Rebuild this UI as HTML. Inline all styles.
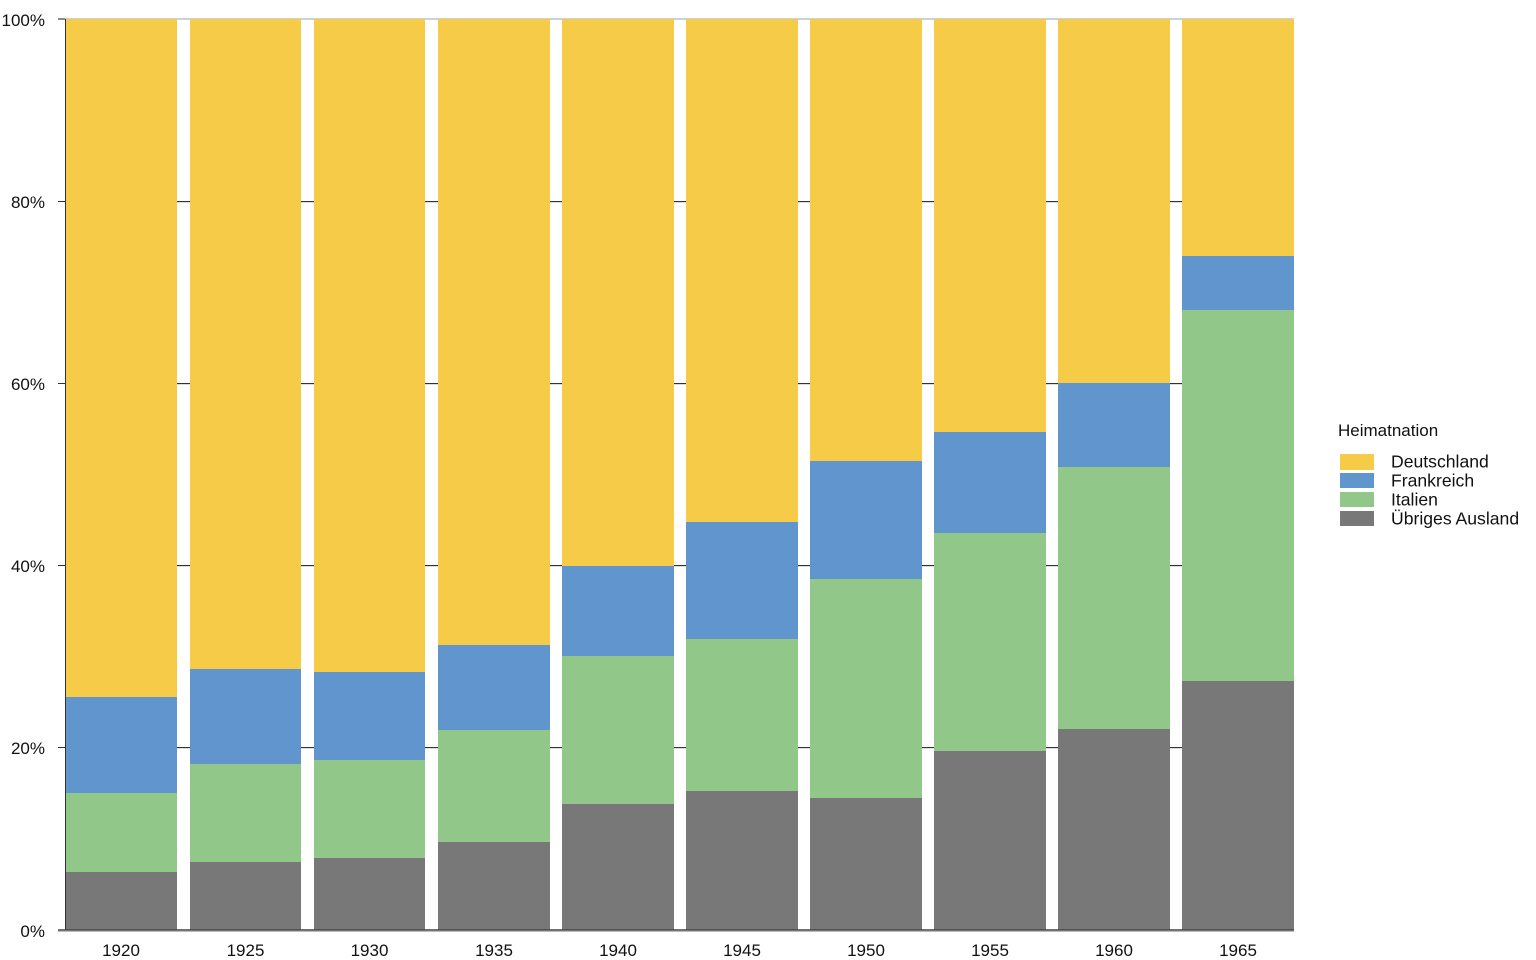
<!DOCTYPE html>
<html><head><meta charset="utf-8"><style>
html,body{margin:0;padding:0;background:#fff;}
svg{display:block;}
text{font-family:"Liberation Sans",sans-serif;font-size:17px;fill:#111;}
text.lg{font-size:17.6px;}
</style></head><body>
<svg width="1536" height="960" viewBox="0 0 1536 960" xmlns="http://www.w3.org/2000/svg">
<rect width="1536" height="960" fill="#fff"/>
<!-- gridlines -->
<g stroke="#333" stroke-width="1">
<line x1="58" y1="201.5" x2="1294" y2="201.5"/>
<line x1="58" y1="383.5" x2="1294" y2="383.5"/>
<line x1="58" y1="565.5" x2="1294" y2="565.5"/>
<line x1="58" y1="747.5" x2="1294" y2="747.5"/>
</g>
<g stroke="#ddd" stroke-width="1">
<line x1="65" y1="202.5" x2="1294" y2="202.5"/>
<line x1="65" y1="384.5" x2="1294" y2="384.5"/>
<line x1="65" y1="566.5" x2="1294" y2="566.5"/>
<line x1="65" y1="748.5" x2="1294" y2="748.5"/>
</g>
<line x1="58" y1="19" x2="1294" y2="19" stroke="#b9c3d6" stroke-width="1.5"/>
<!-- bars -->
<g>
<rect x="65" y="19" width="112" height="678" fill="#F6CB47"/><rect x="65" y="697" width="112" height="96" fill="#6195CE"/><rect x="65" y="793" width="112" height="79" fill="#91C889"/><rect x="65" y="872" width="112" height="58" fill="#787878"/>
<rect x="190" y="19" width="111" height="650" fill="#F6CB47"/><rect x="190" y="669" width="111" height="95" fill="#6195CE"/><rect x="190" y="764" width="111" height="98" fill="#91C889"/><rect x="190" y="862" width="111" height="68" fill="#787878"/>
<rect x="314" y="19" width="111" height="653" fill="#F6CB47"/><rect x="314" y="672" width="111" height="88" fill="#6195CE"/><rect x="314" y="760" width="111" height="98" fill="#91C889"/><rect x="314" y="858" width="111" height="72" fill="#787878"/>
<rect x="438" y="19" width="112" height="626" fill="#F6CB47"/><rect x="438" y="645" width="112" height="85" fill="#6195CE"/><rect x="438" y="730" width="112" height="112" fill="#91C889"/><rect x="438" y="842" width="112" height="88" fill="#787878"/>
<rect x="562" y="19" width="112" height="547" fill="#F6CB47"/><rect x="562" y="566" width="112" height="90" fill="#6195CE"/><rect x="562" y="656" width="112" height="148" fill="#91C889"/><rect x="562" y="804" width="112" height="126" fill="#787878"/>
<rect x="686" y="19" width="112" height="503" fill="#F6CB47"/><rect x="686" y="522" width="112" height="117" fill="#6195CE"/><rect x="686" y="639" width="112" height="152" fill="#91C889"/><rect x="686" y="791" width="112" height="139" fill="#787878"/>
<rect x="810" y="19" width="112" height="442" fill="#F6CB47"/><rect x="810" y="461" width="112" height="118" fill="#6195CE"/><rect x="810" y="579" width="112" height="219" fill="#91C889"/><rect x="810" y="798" width="112" height="132" fill="#787878"/>
<rect x="934" y="19" width="112" height="413" fill="#F6CB47"/><rect x="934" y="432" width="112" height="101" fill="#6195CE"/><rect x="934" y="533" width="112" height="218" fill="#91C889"/><rect x="934" y="751" width="112" height="179" fill="#787878"/>
<rect x="1058" y="19" width="112" height="364" fill="#F6CB47"/><rect x="1058" y="383" width="112" height="84" fill="#6195CE"/><rect x="1058" y="467" width="112" height="262" fill="#91C889"/><rect x="1058" y="729" width="112" height="201" fill="#787878"/>
<rect x="1182" y="19" width="112" height="237" fill="#F6CB47"/><rect x="1182" y="256" width="112" height="54" fill="#6195CE"/><rect x="1182" y="310" width="112" height="371" fill="#91C889"/><rect x="1182" y="681" width="112" height="249" fill="#787878"/>
</g>
<!-- axes -->
<line x1="65.5" y1="19" x2="65.5" y2="930" stroke="#333" stroke-width="1"/>
<line x1="58" y1="930" x2="1294" y2="930" stroke="#444" stroke-width="1.5"/>
<line x1="58" y1="931.5" x2="1294" y2="931.5" stroke="#bbb" stroke-width="1"/>
<line x1="58" y1="19" x2="65" y2="19" stroke="#333" stroke-width="1"/>
<!-- y labels -->
<g text-anchor="end">
<text x="45" y="26">100%</text>
<text x="45" y="208">80%</text>
<text x="45" y="390">60%</text>
<text x="45" y="572">40%</text>
<text x="45" y="754">20%</text>
<text x="45" y="937">0%</text>
</g>
<!-- x labels -->
<g text-anchor="middle">
<text x="121" y="956">1920</text>
<text x="245.5" y="956">1925</text>
<text x="369.5" y="956">1930</text>
<text x="494" y="956">1935</text>
<text x="618" y="956">1940</text>
<text x="742" y="956">1945</text>
<text x="866" y="956">1950</text>
<text x="990" y="956">1955</text>
<text x="1114" y="956">1960</text>
<text x="1238" y="956">1965</text>
</g>
<!-- legend -->
<text x="1338" y="436">Heimatnation</text>
<rect x="1340" y="454" width="34" height="16" fill="#F6CB47"/>
<rect x="1340" y="473" width="34" height="15" fill="#6195CE"/>
<rect x="1340" y="492" width="34" height="15" fill="#91C889"/>
<rect x="1340" y="511" width="34" height="15" fill="#787878"/>
<text class="lg" x="1391" y="467.5">Deutschland</text>
<text class="lg" x="1391" y="486.5">Frankreich</text>
<text class="lg" x="1391" y="505.5">Italien</text>
<text class="lg" x="1391" y="524.5">Übriges Ausland</text>
</svg>
</body></html>
